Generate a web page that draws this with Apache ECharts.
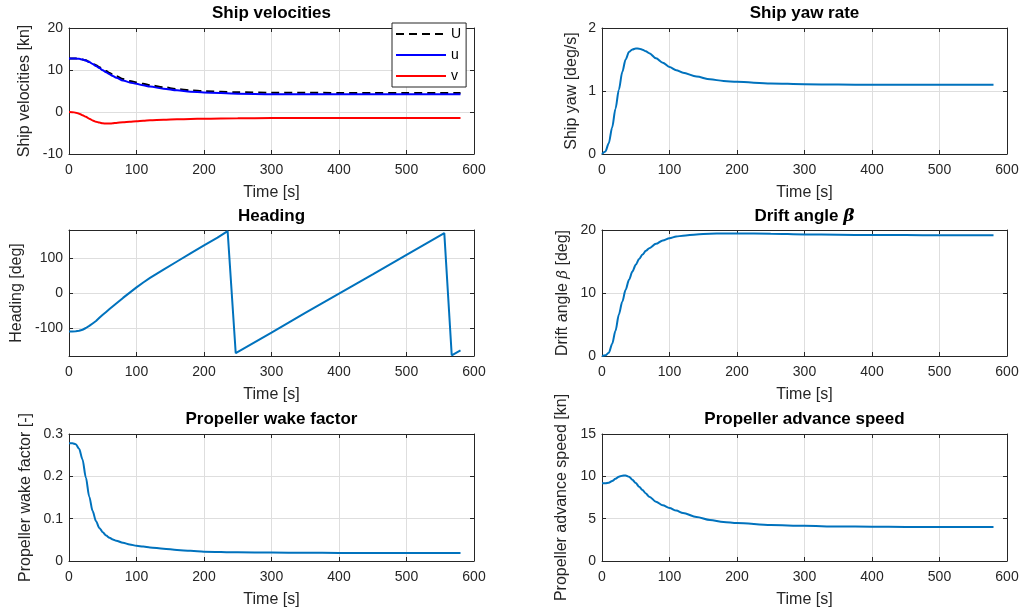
<!DOCTYPE html>
<html><head><meta charset="utf-8">
<script src="https://cdn.jsdelivr.net/npm/echarts@6/dist/echarts.min.js"></script>
<style>html,body{margin:0;padding:0;background:#fff}#c{width:1022px;height:614px}</style>
</head><body><div id="c"></div>
<script>
// ---------- data ----------
const time = [0,5,10,15,20,25,30,35,40,45,50,55,60,65,70,80,90,100,110,120,140,160,180,200,250,300,350,400,450,500,550,580];
const velTotal = [12.75,12.75,12.73,12.66,12.52,12.3,11.98,11.58,11.12,10.65,10.2,9.75,9.3,8.9,8.5,7.85,7.4,7.05,6.7,6.4,5.9,5.45,5.15,4.95,4.7,4.6,4.57,4.55,4.55,4.55,4.55,4.55];
const velSurge = [12.75,12.75,12.72,12.65,12.5,12.25,11.9,11.45,10.95,10.45,9.95,9.45,9.0,8.55,8.15,7.5,7.05,6.7,6.35,6.05,5.55,5.15,4.85,4.65,4.35,4.25,4.2,4.2,4.2,4.2,4.2,4.2];
const velSway = [0,-0.03,-0.15,-0.4,-0.75,-1.15,-1.6,-2.0,-2.3,-2.52,-2.68,-2.75,-2.74,-2.68,-2.6,-2.45,-2.3,-2.18,-2.07,-1.98,-1.85,-1.75,-1.67,-1.6,-1.5,-1.44,-1.42,-1.4,-1.4,-1.4,-1.4,-1.4];
const yawRate = [0,0.04,0.17,0.42,0.72,1.02,1.3,1.5,1.62,1.66,1.675,1.672,1.655,1.63,1.6,1.52,1.45,1.38,1.33,1.29,1.23,1.185,1.16,1.145,1.12,1.108,1.102,1.1,1.1,1.1,1.1,1.1];
const driftAngle = [0,0.1,0.5,1.9,4.0,6.6,8.6,10.5,12.1,13.4,14.5,15.4,16.1,16.7,17.1,17.8,18.35,18.7,18.95,19.1,19.3,19.4,19.45,19.45,19.4,19.3,19.25,19.2,19.2,19.15,19.15,19.15];
const wakeFactor = [0.278,0.278,0.276,0.265,0.24,0.197,0.152,0.118,0.094,0.078,0.068,0.06,0.055,0.051,0.048,0.043,0.039,0.036,0.034,0.032,0.029,0.026,0.024,0.022,0.0205,0.02,0.0195,0.019,0.019,0.019,0.019,0.019];
const advanceSpeed = [9.17,9.18,9.25,9.45,9.7,9.95,10.08,10.1,9.95,9.6,9.2,8.78,8.38,7.98,7.6,7.0,6.58,6.27,5.95,5.66,5.2,4.85,4.62,4.48,4.25,4.15,4.08,4.05,4.03,4.02,4.02,4.02];
const headingTime = [0,5,10,15,20,25,30,35,40,45,50,55,60,65,70,80,90,100,110,120,140,160,180,200,220,235,247,300,350,400,450,500,556,567,580];
const heading = [-110,-110,-109.5,-108,-105,-100,-94,-87,-80,-71,-62,-54,-46,-38,-30,-14,1,16,30,43,67,90,113,136,158,177,-172,-113,-57,-2,53,109,171,-178,-164];
const headingTicks = [-100, 0, 100];
const legendNames = ['U', 'u', 'v'];
const titles = ['Ship velocities', 'Ship yaw rate', 'Heading', 'Drift angle {b|β}', 'Propeller wake factor', 'Propeller advance speed'];
const yNames = ['Ship velocities [kn]', 'Ship yaw [deg/s]', 'Heading [deg]', 'Drift angle {i|β} [deg]', 'Propeller wake factor [-]', 'Propeller advance speed [kn]'];
const xName = 'Time [s]';

// ---------- layout/style ----------
const FONT = '"Liberation Sans", Arial, sans-serif';
const AX = '#262626';
const GRIDC = '#dedede';
const BLUE = '#0072BD';
const grids = [
  {left: 69, top: 28, width: 405, height: 126},
  {left: 602, top: 28, width: 405, height: 126},
  {left: 69, top: 230, width: 405, height: 126},
  {left: 602, top: 230, width: 405, height: 126},
  {left: 69, top: 434, width: 405, height: 127},
  {left: 602, top: 434, width: 405, height: 127}
];
const yCfg = [
  {min: -10, max: 20, interval: 10, gap: 36},
  {min: 0, max: 2, interval: 1, gap: 22},
  {min: -180, max: 180, custom: headingTicks, gap: 44},
  {min: 0, max: 20, interval: 10, gap: 31},
  {min: 0, max: 0.3, interval: 0.1, gap: 35},
  {min: 0, max: 15, interval: 5, gap: 32}
];
const titleTops = [5, 5, 208, 208, 411, 411];
const richMath = {
  b: {fontFamily: '"DejaVu Serif", serif', fontStyle: 'italic', fontWeight: 'bold', fontSize: 17, color: '#000'},
  i: {fontFamily: '"DejaVu Serif", serif', fontStyle: 'italic', fontSize: 15, color: AX}
};

const xAxes = [], yAxes = [], titleArr = [];
grids.forEach((g, k) => {
  xAxes.push({
    gridIndex: k, type: 'value', min: 0, max: 600, interval: 100, position: 'bottom',
    name: xName, nameLocation: 'middle', nameGap: 31,
    nameTextStyle: {fontFamily: FONT, fontSize: 16, color: AX},
    axisLine: {show: true, onZero: false, lineStyle: {color: AX, width: 1}},
    axisTick: {show: true, inside: true, length: 4, lineStyle: {color: AX}},
    axisLabel: {fontFamily: FONT, fontSize: 14, color: AX, margin: 9},
    splitLine: {show: true, lineStyle: {color: GRIDC, width: 1}}
  });
  xAxes.push({
    gridIndex: k, type: 'value', min: 0, max: 600, interval: 100, position: 'top',
    axisLine: {show: true, onZero: false, lineStyle: {color: AX, width: 1}},
    axisTick: {show: true, inside: true, length: 4, lineStyle: {color: AX}},
    axisLabel: {show: false}, splitLine: {show: false}
  });
  const c = yCfg[k];
  const base = {gridIndex: k, type: 'value', min: c.min, max: c.max};
  if (c.interval) base.interval = c.interval;
  const tickC = {show: true, inside: true, length: 4, lineStyle: {color: AX}};
  if (c.custom) tickC.customValues = c.custom;
  const labC = {fontFamily: FONT, fontSize: 14, color: AX, margin: 6};
  if (c.custom) labC.customValues = c.custom;
  yAxes.push(Object.assign({}, base, {
    position: 'left', name: yNames[k], nameLocation: 'middle', nameGap: c.gap,
    nameTextStyle: {fontFamily: FONT, fontSize: 16, color: AX, rich: richMath},
    axisLine: {show: true, onZero: false, lineStyle: {color: AX, width: 1}},
    axisTick: tickC, axisLabel: labC,
    splitLine: {show: true, lineStyle: {color: GRIDC, width: 1}}
  }));
  yAxes.push(Object.assign({}, base, {
    position: 'right',
    axisLine: {show: true, onZero: false, lineStyle: {color: AX, width: 1}},
    axisTick: Object.assign({}, tickC), axisLabel: {show: false}, splitLine: {show: false}
  }));
  titleArr.push({
    text: titles[k], left: g.left + g.width / 2, top: titleTops[k], textAlign: 'center', padding: 0,
    textStyle: {fontFamily: FONT, fontSize: 17, fontWeight: 'bold', color: '#000', rich: richMath}
  });
});

const pairs = (xs, ys) => xs.map((x, i) => [x, ys[i]]);
const lineSeries = (k, name, xs, ys, color, extra) => Object.assign({
  type: 'line', name: name, xAxisIndex: 2 * k, yAxisIndex: 2 * k,
  data: pairs(xs, ys), showSymbol: false, symbol: 'none',
  smooth: 0.3, smoothMonotone: 'x',
  lineStyle: {color: color, width: 2}, itemStyle: {color: color}
}, extra || {});

const series = [
  lineSeries(0, legendNames[0], time, velTotal, '#000000', {lineStyle: {color: '#000', width: 2, type: [8, 5]}}),
  lineSeries(0, legendNames[1], time, velSurge, '#0000FF'),
  lineSeries(0, legendNames[2], time, velSway, '#FF0000'),
  lineSeries(1, 'yaw', time, yawRate, BLUE),
  lineSeries(2, 'heading', headingTime, heading, BLUE, {smooth: false}),
  lineSeries(3, 'drift', time, driftAngle, BLUE),
  lineSeries(4, 'wake', time, wakeFactor, BLUE),
  lineSeries(5, 'advance', time, advanceSpeed, BLUE)
];

const chart = echarts.init(document.getElementById('c'), null, {renderer: 'canvas'});
chart.setOption({
  animation: false,
  backgroundColor: '#fff',
  title: titleArr,
  grid: grids,
  xAxis: xAxes,
  yAxis: yAxes,
  legend: {
    data: legendNames, orient: 'vertical', left: 392, top: 23,
    itemWidth: 50, itemHeight: 14, itemGap: 7, padding: [4, 5, 4, 3],
    borderColor: AX, borderWidth: 1, backgroundColor: '#fff',
    itemStyle: {opacity: 0},
    textStyle: {fontFamily: FONT, fontSize: 14, color: '#000'}
  },
  series: series
});
</script></body></html>
